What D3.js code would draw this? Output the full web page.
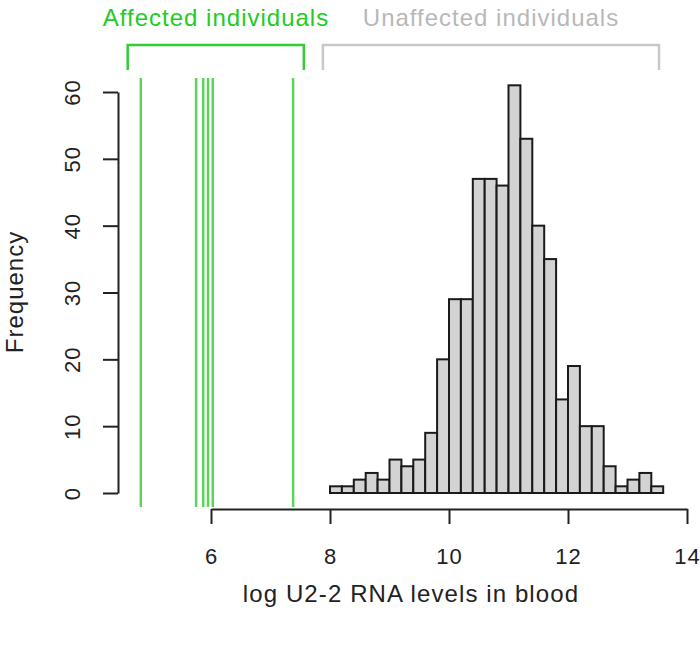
<!DOCTYPE html>
<html>
<head>
<meta charset="utf-8">
<script src="https://cdn.jsdelivr.net/npm/d3@7"></script>
<style>
  body { margin: 0; background: #fff; }
  svg { display: block; font-family: "Liberation Sans", Arial, Helvetica, sans-serif; }
</style>
</head>
<body>
<svg id="chart" width="700" height="648"></svg>
<script>
// Histogram bins (log U2-2 RNA levels), width 0.2 starting at 8.0
const binStarts = [8.0,8.2,8.4,8.6,8.8,9.0,9.2,9.4,9.6,9.8,10.0,10.2,10.4,10.6,10.8,11.0,11.2,11.4,11.6,11.8,12.0,12.2,12.4,12.6,12.8,13.0,13.2,13.4];
const binCounts = [1,1,2,3,2,5,4,5,9,20,29,29,47,47,46,61,53,40,35,14,19,10,10,4,1,2,3,1];
const binWidth = 0.2;
// Affected individuals (vertical green lines)
const affectedValues = [4.82,5.75,5.87,5.95,6.03,7.38];
// Group brackets
const groupNames = ["Affected individuals","Unaffected individuals"];
const groupRanges = [[4.6,7.56],[7.88,13.53]];
const groupColors = ["#33cc33","#c8c8c8"];
const groupTextColors = ["#22cc22","#b8b8b8"];
const xTicks = [6,8,10,12,14];
const yTicks = [0,10,20,30,40,50,60];

const svg = d3.select("#chart");
const x = d3.scaleLinear().domain([6,14]).range([211,687]);
const y = d3.scaleLinear().domain([0,60]).range([493,92]);

// bars
svg.append("g").selectAll("rect").data(binStarts).join("rect")
  .attr("x", (d) => x(d))
  .attr("y", (d,i) => y(binCounts[i]))
  .attr("width", (d) => x(d+binWidth)-x(d))
  .attr("height", (d,i) => y(0)-y(binCounts[i]))
  .attr("fill", "#d3d3d3")
  .attr("stroke", "#1a1a1a")
  .attr("stroke-width", 2);

// affected lines
svg.append("g").selectAll("line").data(affectedValues).join("line")
  .attr("x1", d => x(d)).attr("x2", d => x(d))
  .attr("y1", 78).attr("y2", 507)
  .attr("stroke", "#3fcc3f")
  .attr("stroke-opacity", 0.85)
  .attr("stroke-width", 2.5);

// x axis
const xAxis = d3.axisBottom(x).tickValues(xTicks).tickSize(15).tickPadding(24).tickSizeOuter(0);
const gx = svg.append("g").attr("transform","translate(0,509)").call(xAxis);
gx.select(".domain").attr("stroke","#222").attr("stroke-width",2);
gx.selectAll(".tick line").attr("stroke","#222").attr("stroke-width",2);
gx.selectAll(".tick text").attr("font-size",22).attr("letter-spacing",1).attr("fill","#222")
  .attr("font-family","Liberation Sans, Arial, sans-serif");

// y axis
const yAxis = d3.axisLeft(y).tickValues(yTicks).tickSize(15).tickSizeOuter(0);
const gy = svg.append("g").attr("transform","translate(118,0)").call(yAxis);
gy.select(".domain").attr("stroke","#222").attr("stroke-width",2);
gy.selectAll(".tick line").attr("stroke","#222").attr("stroke-width",2);
gy.selectAll(".tick text").remove();
gy.selectAll(".tick").append("text")
  .attr("transform","translate(-46,0) rotate(-90)")
  .attr("text-anchor","middle")
  .attr("dy","0.35em")
  .attr("font-size",22)
  .attr("letter-spacing",1)
  .attr("fill","#222")
  .attr("font-family","Liberation Sans, Arial, sans-serif")
  .text(d => d);

// axis titles
svg.append("text").attr("x", 411).attr("y", 602).attr("text-anchor","middle")
  .attr("font-size",24).attr("letter-spacing",1.1).attr("fill","#222").text("log U2-2 RNA levels in blood");
svg.append("text").attr("transform","translate(23,292) rotate(-90)").attr("text-anchor","middle")
  .attr("font-size",24).attr("letter-spacing",1).attr("fill","#222").text("Frequency");

// brackets
const br = svg.append("g").selectAll("g").data(groupNames).join("g");
br.append("path")
  .attr("d", (d,i) => {
    const a = x(groupRanges[i][0]), b = x(groupRanges[i][1]);
    return `M${a},70 L${a},45 L${b},45 L${b},70`;
  })
  .attr("fill","none")
  .attr("stroke", (d,i) => groupColors[i])
  .attr("stroke-width", 2.5);
br.append("text")
  .attr("x", (d,i) => i === 0 ? 216 : 491)
  .attr("y", 26)
  .attr("text-anchor","middle")
  .attr("font-size", 24)
  .attr("letter-spacing", 1)
  .attr("fill", (d,i) => groupTextColors[i])
  .text(d => d);
</script>
</body>
</html>
